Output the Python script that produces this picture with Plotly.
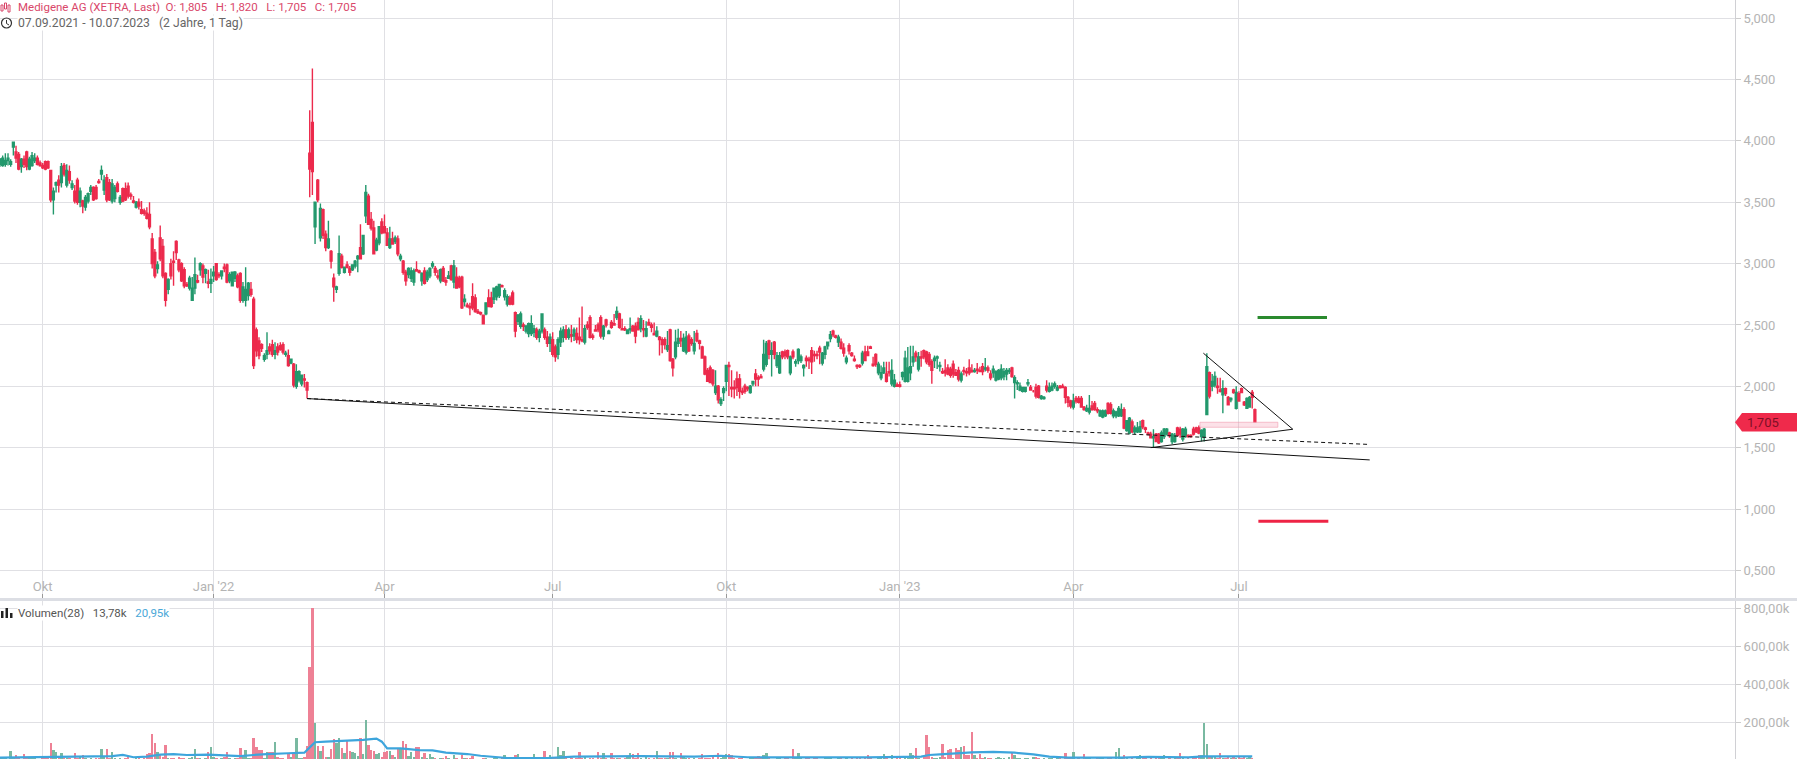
import plotly.graph_objects as go

# Candles: (open, high, low, close) in euro cents, one list per quarter
Q3_2021 = [(381,386,379,385),(380,388,379,386),(381,390,379,384),(384,390,380,386),(381,385,379,383),(395,399,388,399),(391,396,382,386),(389,391,376,377),(379,386,374,385),(385,388,378,381),
(391,392,376,379),(377,387,376,385),(380,391,379,388),(384,390,382,386),(386,388,380,381),(382,384,379,380)]
Q4_2021 = [(380,382,377,378),(383,384,376,377),(383,384,377,378),(376,376,350,352),(352,362,340,359),(364,367,358,366),(368,372,358,364),(366,382,362,379),(380,382,371,373),(364,381,362,376),
(375,380,365,368),(362,368,360,365),(359,364,349,351),(368,370,348,350),(350,362,346,359),(351,352,341,347),(346,356,343,354),(351,358,349,357),(359,364,356,362),(362,363,351,352),
(362,364,352,353),(367,369,365,366),(373,380,368,376),(360,372,356,368),(370,373,350,352),(366,369,351,352),(351,369,349,365),(353,364,350,362),(365,367,358,359),(350,356,348,354),
(361,362,350,351),(361,366,351,352),(363,366,353,355),(356,358,352,355),(351,355,349,350),(346,351,345,350),(350,353,344,347),(344,351,340,341),(343,345,339,341),(341,346,336,337),
(340,350,328,330),(320,325,296,300),(309,312,288,290),(296,302,292,299),(321,331,302,304),(314,320,288,290),(292,293,265,270),(279,288,275,287),(300,304,287,290),(302,310,282,301),
(318,319,303,309),(303,304,293,295),(300,301,285,286),(295,297,280,282),(283,285,281,282),(280,290,278,288),(270,289,270,280),(280,305,275,291),(286,291,284,285),(295,301,290,300),
(298,300,284,289),(292,296,284,295),(285,295,280,284),(284,296,276,287)]
Q1_2022 = [(290,298,285,293),(300,300,286,287),(291,293,288,290),(290,294,287,294),(297,300,293,296),(299,300,284,285),(286,293,284,291),(282,293,282,293),(288,294,285,293),(290,292,280,281),
(292,293,268,270),(270,285,268,281),(270,297,265,279),(274,285,270,284),(279,285,273,275),(271,273,214,217),(246,248,224,229),(237,240,222,225),(234,235,228,231),(222,227,220,225),
(226,244,222,229),(232,235,226,229),(234,238,224,226),(226,236,222,229),(232,235,225,228),(233,236,229,230),(234,236,226,228),(226,229,224,227),(225,230,216,217),(219,222,218,222),
(218,219,199,201),(200,218,198,212),(205,213,203,212),(202,209,200,209),(206,210,199,205),(203,204,190,197),(390,425,354,377),(415,459,356,375),(330,350,316,350),(368,369,350,352),
(321,349,318,345),(344,345,320,323),(324,327,310,313),(313,335,312,320),(310,311,296,302),(288,292,269,281),(279,282,276,281),(292,323,290,308),(306,308,296,297),(293,297,292,297),
(299,302,296,297),(296,298,290,293),(295,299,294,299),(298,303,296,302),(304,307,293,306),(313,332,304,304),(308,323,307,323),(339,364,333,358),(355,357,332,332),(336,342,327,329),
(329,335,308,308),(311,321,310,319),(317,330,315,330),(334,337,324,325)]
Q2_2022 = [(330,340,325,325),(325,329,315,315),(313,330,312,320),(320,326,316,316),(318,323,316,321),(320,323,306,308),(304,308,302,306),(302,303,291,293),(293,295,282,286),(291,297,288,296),
(288,297,285,294),(285,296,282,294),(295,302,294,294),(294,295,292,293),(286,293,282,292),(294,297,283,284),(287,295,285,293),(290,297,288,296),(298,302,296,300),(296,298,290,293),
(290,295,287,289),(286,296,284,295),(296,298,285,286),(286,289,282,285),(288,294,288,290),(298,299,286,287),(285,303,280,298),(289,297,280,280),(288,290,280,281),(289,290,263,264),
(269,275,265,271),(266,268,264,265),(265,268,258,264),(273,284,262,264),(272,275,260,261),(261,263,259,260),(260,261,258,259),(258,258,251,251),(259,268,258,268),(272,279,265,265),
(272,277,264,265),(271,280,267,280),(273,282,270,281),(274,283,272,283),(282,283,281,281),(273,280,270,278),(267,275,265,273),(272,274,266,267),(276,278,266,267),(260,261,240,245),
(253,259,250,258),(249,261,247,259),(250,252,245,249),(245,250,243,249),(243,252,240,251),(243,258,241,251),(244,250,240,247),(246,248,238,240),(240,247,236,245),(245,259,243,259),
(246,248,238,240),(240,245,232,235),(235,243,228,240)]
Q3_2022 = [(238,244,224,226),(232,234,220,224),(226,240,222,238),(236,248,232,245),(240,249,236,246),(246,250,238,240),(240,248,238,246),(242,250,236,241),(241,248,237,246),(243,248,235,238),
(240,256,234,238),(238,265,236,237),(236,250,234,247),(250,253,246,248),(256,258,239,240),(241,243,238,240),(246,250,245,245),(250,252,244,246),(256,258,239,241),(241,250,238,249),
(254,255,248,250),(243,246,243,245),(252,254,247,248),(251,259,250,250),(256,265,254,261),(259,260,247,248),(247,255,246,246),(247,249,245,246),(243,246,243,246),(246,256,243,247),
(249,250,245,245),(249,252,235,241),(252,256,246,246),(247,258,244,255),(247,254,240,246),(241,253,240,247),(252,255,250,250),(250,252,244,248),(243,252,242,242),(241,249,240,245),
(240,241,225,238),(238,240,227,234),(238,240,230,234),(230,245,228,233),(246,247,220,221),(222,223,208,215),(224,246,222,236),(235,247,232,239),(239,245,232,237),(229,243,228,239),
(228,245,226,240),(241,243,228,229),(238,240,233,235),(229,245,226,235),(243,246,236,237),(237,238,230,235),(232,233,223,223),(224,225,209,210),(213,215,204,204),(215,217,203,203),
(213,214,200,202),(195,213,193,200),(200,201,186,189),(186,191,184,189),(195,200,188,198)]
Q4_2022 = [(204,217,196,217),(217,220,192,216),(199,213,191,198),(199,205,190,198),(206,212,192,199),(206,210,190,196),(196,199,193,195),(200,202,194,196),(199,200,196,198),(195,201,194,200),
(202,204,200,204),(210,214,200,206),(207,209,200,206),(208,210,207,207),(214,238,212,226),(218,237,216,235),(237,238,222,226),(226,236,208,229),(236,237,222,226),(217,228,215,225),
(211,228,210,225),(228,229,222,224),(228,230,222,225),(229,230,222,224),(211,225,209,224),(228,230,222,224),(219,222,216,220),(221,231,218,230),(221,226,219,224),(215,218,208,217),
(223,225,216,221),(222,224,214,221),(229,232,210,220),(226,229,220,225),(226,229,222,225),(231,233,218,228),(219,228,217,227),(226,233,222,232),(233,236,230,236),(239,245,236,242),
(245,246,240,242),(241,242,239,240),(236,242,232,240),(236,239,230,231),(231,235,224,227),(220,225,218,223),(233,235,226,229),(227,228,224,225),(222,225,220,221),(217,218,214,216),
(217,218,215,216),(219,229,217,227),(228,233,221,221),(228,233,225,225),(232,233,231,231),(218,224,216,217),(226,227,216,218),(211,220,209,218),(207,217,205,211),(211,220,210,215),
(210,220,203,204),(212,220,208,211),(202,222,200,213),(200,210,199,205),(201,203,200,200)]
Q1_2023 = [(201,204,199,200),(208,212,205,211),(204,229,203,223),(204,232,203,215),(211,233,205,216),(220,233,216,224),(227,229,220,224),(214,228,212,224),(224,229,216,223),(229,230,222,224),
(228,229,218,220),(226,228,216,218),(220,222,202,213),(221,225,215,223),(223,225,214,224),(216,220,212,217),(212,215,210,211),(213,222,208,211),(215,218,209,210),(214,216,207,209),
(218,221,207,210),(211,214,209,209),(213,216,204,206),(205,212,203,210),(213,216,209,212),(212,215,208,211),(215,222,209,211),(213,218,211,212),(212,215,211,213),(214,219,210,213),
(213,216,212,212),(216,219,209,212),(214,223,212,215),(215,217,211,213),(210,213,205,207),(211,217,207,214),(205,213,204,212),(206,214,205,213),(207,218,205,214),(208,215,205,212),
(210,215,205,213),(212,215,210,213),(215,216,207,208),(203,209,190,207),(202,205,197,203),(197,203,196,200),(196,199,195,199),(196,199,195,199),(202,206,200,203),(199,201,197,197),
(196,197,195,196),(199,202,190,192),(200,201,190,191),(190,193,189,192),(190,192,189,191),(200,205,195,197),(196,203,195,199),(197,203,196,200),(200,204,198,202),(197,201,196,199),
(200,201,198,199),(200,202,199,199),(199,200,186,191),(191,192,183,187),(188,189,182,184)]
Q2_2023 = [(183,194,181,188),(190,192,186,188),(190,192,186,187),(190,192,183,183),(183,184,180,181),(180,185,179,182),(179,193,177,182),(184,188,180,181),(186,188,180,181),(181,183,178,180),
(176,181,175,180),(175,181,174,180),(176,181,175,180),(186,187,177,178),(185,187,177,178),(176,182,174,180),(176,180,174,179),(176,184,175,182),(176,186,175,181),(181,183,165,166),
(164,172,163,172),(162,175,161,174),(171,173,162,163),(163,168,161,166),(163,171,162,166),(163,172,162,167),(172,173,165,167),(166,167,162,165),(162,163,160,161),(161,163,158,158),
(158,165,150,159),(161,162,155,155),(161,162,153,154),(155,164,154,162),(159,166,157,165),(161,166,160,165),(162,163,158,160),(155,162,153,161),(155,162,154,160),(166,167,159,160),
(165,167,158,161),(157,166,155,165),(159,167,158,165),(160,161,158,159),(160,161,158,159),(165,167,160,161),(166,167,162,163),(166,168,161,162),(159,165,155,164),(159,166,155,165),
(177,227,177,216),(211,212,190,192),(200,210,196,204),(201,212,199,208),(200,207,194,199),(197,207,195,196),(193,205,178,198),(198,199,192,194),(191,192,185,185),(189,191,187,190),
(197,198,194,195),(182,200,181,195)]
Q3_2023 = [(194,196,188,188),(198,199,195,195),(187,188,184,185),(182,191,182,190),(183,192,183,191),(195,197,182,191),(181,182,171,171)]

# Volume per candle, thousands
VOLUME_K = [14,10,12,9,49,11,30,13,9,35, 12,10,14,11,9,8,12,15,16,89, 54,45,18,36,14,11,13,9,36,12, 16,30,10,8,12,9,11,14,59,15,
59,10,42,14,9,12,8,11,15,7, 9,12,10,8,14,33,36,138,93,42, 28,16,80,13,10,12,9,18,14,11, 8,12,15,59,10,13,9,14,42,68,
15,11,9,12,18,42,10,8,14,13, 63,16,54,12,11,120,68,54,54,14, 45,45,42,94,18,12,10,9,40,15, 36,115,14,12,16,75,493,800,195,75,
49,75,18,20,59,110,89,115,63,36, 107,49,45,36,22,120,33,212,80,54, 49,33,36,18,42,49,51,30,20,59, 59,101,85,24,45,18,68,68,20,36,
14,33,16,12,9,13,10,22,11,8, 30,12,9,28,10,14,11,24,8,9, 7,10,12,8,9,11,13,6,10,28, 8,11,9,28,33,10,7,12,9,8,
33,10,9,13,49,11,28,14,12,70, 30,49,10,8,12,9,11,42,13,15, 9,12,10,8,42,14,36,11,9,36, 12,10,14,9,13,16,36,33,10,36,
12,8,15,10,9,11,49,14,12,10, 13,42,42,11,9,40,16,12,10,8, 12,9,14,33,11,13,10,28,9,36, 12,15,33,33,28,11,9,13,10,8,
9,12,10,14,22,11,28,36,13,9, 8,12,10,9,14,11,7,59,13,36, 11,9,12,10,8,13,14,9,7,11, 10,12,9,8,11,13,7,10,9,12,
8,11,14,9,10,28,12,8,9,11, 13,33,10,7,28,9,12,14,8,10, 11,36,30,63,12,9,16,133,72,20, 14,12,18,85,16,54,58,13,63,54,
68,75,28,28,149,30,14,33,12,16, 11,14,9,12,16,10,13,8,20,40, 28,12,10,9,11,14,8,20,20,10, 9,12,7,11,13,8,10,12,9,36,
11,14,42,9,12,8,33,10,13,7, 9,11,12,14,8,10,13,9,42,63, 12,28,10,8,11,9,13,28,10,12, 8,14,9,11,12,10,28,7,13,9,
11,10,36,12,8,14,9,13,10,28, 28,198,85,20,18,15,12,36,14,11, 16,12,18,13,15,14,17,12,16,14]

# Volume moving average as read at selected candles
VOL_MA_IDX = [0,19,42,46,50,55,60,65,70,78,90,95,100,108,114,116,118,122,128,136,141,143,145,150,157,162,167,175,180,185,190,205,215,240,260,270,280,290,300,314,325,345,348,352,358,364,372,380,387,393,400,420,430,445,451,469]
VOL_MA_K = [14,19,22,28,16,19,30,33,28,30,22,28,33,37,40,68,95,98,101,108,114,98,63,63,54,52,40,33,24,17,12,12,19,22,19,24,16,15,15,12,15,19,28,31,37,42,44,40,31,19,14,14,18,15,21,21]

# Drawn overlays (candle index, euro)
TREND_X = [115, 513]
TREND_Y = [1.90, 1.40]
DASH_X = [115, 512]
DASH_Y = [1.90, 1.527]
TRIANGLE_X = [450.7, 484.2, 431]
TRIANGLE_Y = [2.27, 1.65, 1.50]
TARGET_UP_X = [471, 497]
TARGET_UP_Y = [2.56, 2.56]
TARGET_DOWN_X = [471.3, 497.5]
TARGET_DOWN_Y = [0.90, 0.90]
ZONE_X = [449.4, 478.6, 478.6, 449.4, 449.4]
ZONE_Y = [1.666, 1.666, 1.707, 1.707, 1.666]

DATE_TICK_IDX = [16, 80, 144, 207, 272, 337, 402, 464]
DATE_TICK_TEXT = ["Okt", "Jan '22", "Apr", "Jul", "Okt", "Jan '23", "Apr", "Jul"]
PRICE_TICKS = [0.5, 1, 1.5, 2, 2.5, 3, 3.5, 4, 4.5, 5]
PRICE_TICK_TEXT = ["0,500", "1,000", "1,500", "2,000", "2,500", "3,000", "3,500", "4,000", "4,500", "5,000"]
VOL_TICKS = [200, 400, 600, 800]
VOL_TICK_TEXT = ["200,00k", "400,00k", "600,00k", "800,00k"]

candles = Q3_2021 + Q4_2021 + Q1_2022 + Q2_2022 + Q3_2022 + Q4_2022 + Q1_2023 + Q2_2023 + Q3_2023
idx = list(range(len(candles)))
opens = [c[0] / 100 for c in candles]
highs = [c[1] / 100 for c in candles]
lows = [c[2] / 100 for c in candles]
closes = [c[3] / 100 for c in candles]
vols = VOLUME_K[:len(candles)]

W, H = 1797, 759
RED, GREEN = "#ec2a4c", "#22986c"
GRID = "#e0e0e4"
TXT = "#b4b4b4"
PX_PER_CANDLE = 2.67
AXIS_X = 1735
xrange_ = [0, AXIS_X / PX_PER_CANDLE]
def px(x): return x / W
def py(y): return 1 - y / H

fig = go.Figure()
fig.add_trace(go.Bar(x=idx, y=vols, width=0.92, xaxis="x2", yaxis="y2",
                     marker=dict(color=["#ee8195" if c < o else "#79b9a1" for o, c in zip(opens, closes)], line_width=0)))
fig.add_trace(go.Scatter(x=VOL_MA_IDX, y=VOL_MA_K, xaxis="x2", yaxis="y2", mode="lines",
                         line=dict(color="#3da5dc", width=2.2)))
fig.add_trace(go.Candlestick(x=idx, open=opens, high=highs, low=lows, close=closes, xaxis="x", yaxis="y",
                             whiskerwidth=0,
                             increasing=dict(line=dict(color=GREEN, width=1.4), fillcolor=GREEN),
                             decreasing=dict(line=dict(color=RED, width=1.4), fillcolor=RED)))
fig.add_trace(go.Scatter(x=ZONE_X, y=ZONE_Y, mode="lines", fill="toself", fillcolor="rgba(240,120,150,0.22)",
                         line=dict(color="rgba(240,150,170,0.55)", width=1)))
for xs, ys, dash in [(TREND_X, TREND_Y, "solid"), (DASH_X, DASH_Y, "4px,3px")]:
    fig.add_trace(go.Scatter(x=xs, y=ys, mode="lines", line=dict(color="#111111", width=1, dash=dash)))
fig.add_trace(go.Scatter(x=TRIANGLE_X, y=TRIANGLE_Y, mode="lines", line=dict(color="#111111", width=1)))
fig.add_trace(go.Scatter(x=TARGET_UP_X, y=TARGET_UP_Y, mode="lines", line=dict(color="#2a8a2e", width=3)))
fig.add_trace(go.Scatter(x=TARGET_DOWN_X, y=TARGET_DOWN_Y, mode="lines", line=dict(color="#ee2445", width=3)))

axis_font = dict(family="Roboto", size=13, color=TXT)
shapes = [
    dict(type="line", xref="paper", yref="paper", x0=0, x1=1, y0=py(599.5), y1=py(599.5),
         line=dict(color="#dcdee4", width=3)),
    dict(type="path", xref="paper", yref="paper", fillcolor="#ef2a4b", line_width=0,
         path=f"M {px(1735)} {py(422.3)} L {px(1742)} {py(413)} L {px(1797)} {py(413)} L {px(1797)} {py(431.6)} L {px(1742)} {py(431.6)} Z"),
    # clock icon
    dict(type="circle", xref="paper", yref="paper", x0=px(1.5), x1=px(11.5), y0=py(18), y1=py(28),
         line=dict(color="#333333", width=1.2)),
    dict(type="path", xref="paper", yref="paper", line=dict(color="#333333", width=1),
         path=f"M {px(6.5)} {py(20)} L {px(6.5)} {py(23.5)} L {px(9)} {py(25)}"),
]
# candle icon and volume icon
for x0, y0, y1 in [(1, 5, 11), (4.5, 3, 9), (8, 5, 12)]:
    shapes.append(dict(type="rect", xref="paper", yref="paper", x0=px(x0), x1=px(x0 + 2), y0=py(y0), y1=py(y1),
                       line=dict(color="#d9476a", width=1), fillcolor="rgba(0,0,0,0)"))
for x0, y0 in [(1, 611), (5.5, 608), (10, 613)]:
    shapes.append(dict(type="rect", xref="paper", yref="paper", x0=px(x0), x1=px(x0 + 2.5), y0=py(y0), y1=py(618),
                       line_width=0, fillcolor="#222222"))

def note(x, y, text, color, size=11.5, bg="white", anchor="left"):
    return dict(xref="paper", yref="paper", x=px(x), y=py(y), text=text, showarrow=False, xanchor=anchor,
                yanchor="middle", align="left", bgcolor=bg, borderpad=0,
                font=dict(family="Roboto", size=size, color=color))

nb = "\u00a0"
annotations = [
    note(17, 7, f"Medigene AG (XETRA, Last){nb}{nb}O: 1,805{nb}{nb}{nb}H: 1,820{nb}{nb}{nb}L: 1,705{nb}{nb}{nb}C: 1,705", "#d9476a"),
    note(17, 23, f"07.09.2021 - 10.07.2023{nb}{nb}{nb}(2 Jahre, 1 Tag)", "#666666", size=12.2),
    note(17, 613, f"Volumen(28){nb}{nb}{nb}13,78k{nb}{nb}{nb}<span style='color:#4aa8d8'>20,95k</span>", "#555555"),
    note(1746, 422.3, "1,705", "#7d1026", size=13, bg="rgba(0,0,0,0)"),
]

fig.update_layout(
    width=W, height=H, margin=dict(l=0, r=0, t=0, b=0), paper_bgcolor="white", plot_bgcolor="white",
    showlegend=False, hovermode=False, dragmode=False, bargap=0, boxgap=0, shapes=shapes, annotations=annotations,
    xaxis=dict(domain=[0, px(AXIS_X)], range=xrange_, anchor="y", tickmode="array", tickvals=DATE_TICK_IDX,
               ticktext=DATE_TICK_TEXT, ticklabelposition="inside", tickfont=axis_font, ticks="inside", ticklen=4,
               tickcolor="#999999", showgrid=True, gridcolor=GRID, gridwidth=1, zeroline=False,
               rangeslider=dict(visible=False), showline=False),
    xaxis2=dict(domain=[0, px(AXIS_X)], range=xrange_, anchor="y2", tickmode="array", tickvals=DATE_TICK_IDX,
                showticklabels=False, ticks="", showgrid=True, gridcolor=GRID, gridwidth=1, zeroline=False, showline=False),
    yaxis=dict(domain=[py(598), 1], range=[2 + (386.3 - 598) / 122.7, 2 + 386.3 / 122.7], anchor="x", side="right",
               tickmode="array", tickvals=PRICE_TICKS, ticktext=PRICE_TICK_TEXT, tickfont=axis_font, ticks="outside",
               ticklen=5, tickcolor="#cccccc", showgrid=True, gridcolor=GRID, gridwidth=1, zeroline=False,
               showline=True, linecolor="#d0d0d4", linewidth=1),
    yaxis2=dict(domain=[0, py(601)], range=[(760.3 - 759) / 38 * 200, (760.3 - 601) / 38 * 200], anchor="x2", side="right",
                tickmode="array", tickvals=VOL_TICKS, ticktext=VOL_TICK_TEXT, tickfont=axis_font, ticks="outside",
                ticklen=5, tickcolor="#cccccc", showgrid=True, gridcolor=GRID, gridwidth=1, zeroline=False,
                showline=True, linecolor="#d0d0d4", linewidth=1),
)

fig.write_html("out.html", config={"displayModeBar": False, "staticPlot": True},
               post_script="document.body.style.margin='0';document.body.style.overflow='hidden';")
